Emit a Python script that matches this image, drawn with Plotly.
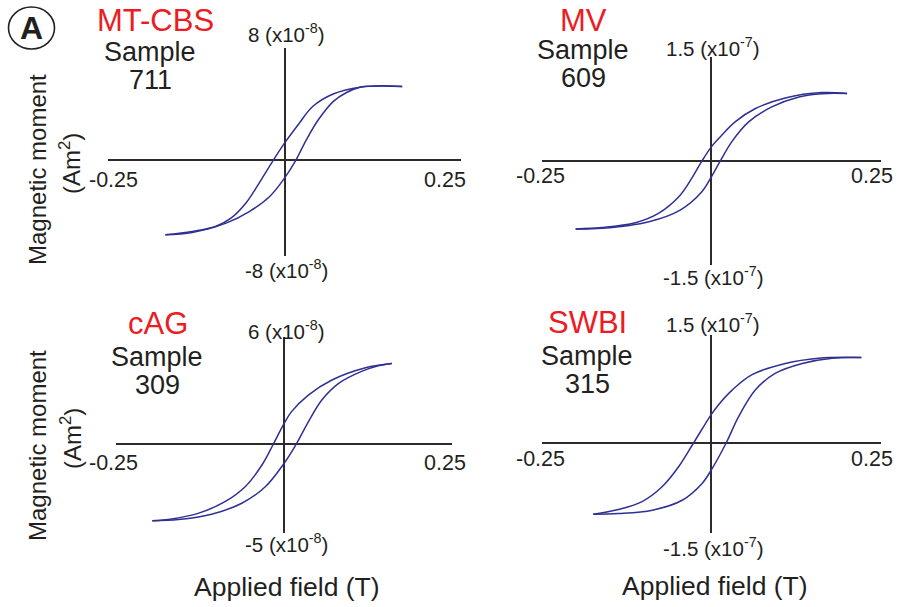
import plotly.graph_objects as go

W, H = 898, 607
FONT = "Liberation Sans, Arial, Helvetica, sans-serif"
TXT = "#231f20"
RED = "#ed1c24"
BLUE = "#2e3192"

# ---------------- data (field in T, moment in units of the panel multiplier) ----
# Panel 1: MT-CBS, sample 711  (x10^-8 Am^2)
p1_field_desc = [0.167, 0.107, 0.069, 0.040, 0.021, 0.0, -0.016, -0.036, -0.055, -0.076, -0.098, -0.131, -0.169]
p1_mom_desc = [5.68, 5.63, 5.10, 4.14, 2.86, 1.32, 0.0, -1.75, -3.30, -4.45, -5.09, -5.47, -5.73]
p1_field_asc = [-0.169, -0.131, -0.083, -0.050, -0.021, 0.0, 0.016, 0.031, 0.048, 0.069, 0.088, 0.107, 0.136, 0.167]
p1_mom_asc = [-5.73, -5.55, -4.83, -3.94, -2.78, -1.37, 0.0, 1.58, 3.12, 4.52, 5.22, 5.63, 5.73, 5.68]

# Panel 2: MV, sample 609  (x10^-7 Am^2)
p2_field_desc = [0.200, 0.163, 0.109, 0.065, 0.035, 0.013, 0.0, -0.014, -0.029, -0.048, -0.078, -0.112, -0.161, -0.200]
p2_mom_desc = [0.977, 0.99, 0.913, 0.76, 0.567, 0.35, 0.206, 0.0, -0.25, -0.515, -0.755, -0.89, -0.96, -0.98]
p2_field_asc = [-0.200, -0.161, -0.092, -0.046, -0.014, 0.0, 0.013, 0.030, 0.055, 0.089, 0.129, 0.163, 0.200]
p2_mom_asc = [-0.98, -0.97, -0.875, -0.707, -0.442, -0.226, 0.0, 0.279, 0.567, 0.783, 0.927, 0.975, 0.977]

# Panel 3: cAG, sample 309  (x10^-8 Am^2)
p3_field_desc = [0.160, 0.121, 0.071, 0.036, 0.011, 0.0, -0.016, -0.033, -0.058, -0.088, -0.128, -0.167, -0.196]
p3_mom_desc = [4.53, 4.29, 3.60, 2.75, 1.82, 1.16, 0.0, -1.18, -2.40, -3.24, -3.90, -4.21, -4.31]
p3_field_asc = [-0.196, -0.157, -0.108, -0.063, -0.028, 0.0, 0.018, 0.036, 0.056, 0.081, 0.116, 0.140, 0.160]
p3_mom_asc = [-4.31, -4.25, -3.95, -3.33, -2.40, -1.08, 0.0, 1.25, 2.47, 3.41, 4.10, 4.40, 4.53]

# Panel 4: SWBI, sample 315  (x10^-7 Am^2)
p4_field_desc = [0.221, 0.158, 0.109, 0.060, 0.031, 0.011, 0.0, -0.026, -0.048, -0.073, -0.102, -0.137, -0.174]
p4_mom_desc = [1.29, 1.28, 1.20, 1.03, 0.80, 0.58, 0.43, 0.0, -0.36, -0.67, -0.89, -1.01, -1.08]
p4_field_asc = [-0.174, -0.137, -0.087, -0.043, -0.014, 0.0, 0.022, 0.040, 0.065, 0.094, 0.134, 0.178, 0.221]
p4_mom_asc = [-1.08, -1.07, -1.02, -0.87, -0.62, -0.41, 0.0, 0.39, 0.80, 1.05, 1.20, 1.28, 1.29]

sites = ["MT-CBS", "MV", "cAG", "SWBI"]
sample_word = "Sample"
sample_ids = ["711", "609", "309", "315"]
y_top_labels = ["8 (x10<sup>-8</sup>)", "1.5 (x10<sup>-7</sup>)", "6 (x10<sup>-8</sup>)", "1.5 (x10<sup>-7</sup>)"]
y_bot_labels = ["-8 (x10<sup>-8</sup>)", "-1.5 (x10<sup>-7</sup>)", "-5 (x10<sup>-8</sup>)", "-1.5 (x10<sup>-7</sup>)"]
x_tick_labels = ["-0.25", "0.25"]
x_range = [-0.25, 0.25]
y_ranges = [[-7.36, 8.62], [-1.5, 1.5], [-5.02, 6.0], [-1.37, 1.63]]

branches = [
    (p1_field_desc, p1_mom_desc, p1_field_asc, p1_mom_asc),
    (p2_field_desc, p2_mom_desc, p2_field_asc, p2_mom_asc),
    (p3_field_desc, p3_mom_desc, p3_field_asc, p3_mom_asc),
    (p4_field_desc, p4_mom_desc, p4_field_asc, p4_mom_asc),
]

# ---------------- layout geometry (pixels) ----------------
panel_px = [
    (108.3, 460.7, 48.3, 256.0),
    (541.7, 881.0, 57.3, 265.0),
    (116.0, 452.3, 337.3, 533.3),
    (541.7, 881.0, 335.0, 533.3),
]
site_pos = [(155, 21), (583, 21), (158, 323), (587, 322)]
sample_pos = [(150, 52), (583, 49.5), (157, 357), (587, 356)]
id_pos = [(150, 80), (583, 78), (157, 385), (587, 384)]
ytop_pos = [(286, 33), (713, 47), (286, 330), (713, 323)]
ybot_pos = [(286, 269), (713, 276), (286, 543), (713, 547)]
xl_pos = [(113, 180), (540, 176), (113, 463), (540, 459)]
xr_pos = [(445, 180), (872, 176), (445, 463), (872, 459)]


def px(x):
    return x / W


def py(y):
    return 1 - y / H


fig = go.Figure()
annotations = []


def ann(text, pos, size, color=TXT, **kw):
    annotations.append(dict(
        text=text, x=px(pos[0]), y=py(pos[1]), xref="paper", yref="paper",
        xanchor="center", yanchor="middle", showarrow=False, borderpad=0,
        font=dict(family=FONT, size=size, color=color), **kw))


for i in range(4):
    xl, xr, yt, yb = panel_px[i]
    sfx = "" if i == 0 else str(i + 1)
    ax = dict(
        domain=[px(xl), px(xr)], range=x_range, showgrid=False, showticklabels=False,
        showline=False, zeroline=True, zerolinecolor="#2b2b2b", zerolinewidth=2,
        fixedrange=True, anchor="y" + sfx,
    )
    ay = dict(
        domain=[py(yb), py(yt)], range=y_ranges[i], showgrid=False, showticklabels=False,
        showline=False, zeroline=True, zerolinecolor="#2b2b2b", zerolinewidth=2,
        fixedrange=True, anchor="x" + sfx,
    )
    fig.update_layout(**{"xaxis" + sfx: ax, "yaxis" + sfx: ay})

    fd, md, fa, ma = branches[i]
    for fx, my in ((fd, md), (fa, ma)):
        fig.add_trace(go.Scatter(
            x=fx, y=my, mode="lines", xaxis="x" + sfx, yaxis="y" + sfx,
            line=dict(color=BLUE, width=1.5, shape="spline", smoothing=1.0),
            showlegend=False, hoverinfo="skip",
        ))

    ann(sites[i], site_pos[i], 31, RED)
    ann(sample_word, sample_pos[i], 27)
    ann(sample_ids[i], id_pos[i], 27)
    ann(y_top_labels[i], ytop_pos[i], 20.5)
    ann(y_bot_labels[i], ybot_pos[i], 20.5)
    ann(x_tick_labels[0], xl_pos[i], 21.5)
    ann(x_tick_labels[1], xr_pos[i], 21.5)

for pos in [(37, 170), (37, 446)]:
    ann("Magnetic moment", pos, 24, textangle=-90)
for pos in [(70, 164), (71, 439)]:
    ann("(Am<sup>2</sup>)", pos, 24, textangle=-90)
for pos in [(287, 587), (715, 586)]:
    ann("Applied field (T)", pos, 26.5)

ann("<b>A</b>", (31.5, 28), 32)

fig.update_layout(
    width=W, height=H, margin=dict(l=0, r=0, t=0, b=0),
    paper_bgcolor="white", plot_bgcolor="rgba(0,0,0,0)",
    annotations=annotations,
    shapes=[dict(type="circle", xref="paper", yref="paper",
                 x0=px(8.5), x1=px(54.5), y0=py(49), y1=py(7),
                 line=dict(color=TXT, width=1.6))],
)

fig.write_html("out.html")
